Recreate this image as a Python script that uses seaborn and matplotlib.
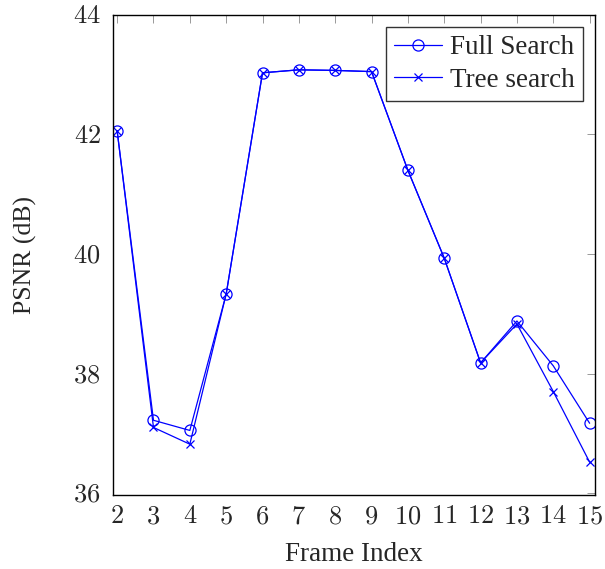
import matplotlib
matplotlib.use("Agg")
import matplotlib.pyplot as plt
import seaborn as sns
import pandas as pd
from matplotlib.ticker import FuncFormatter

frames = [2, 3, 4, 5, 6, 7, 8, 9, 10, 11, 12, 13, 14, 15]
full_search = [42.06, 37.22, 37.05, 39.33, 43.03, 43.08, 43.07, 43.05, 41.40, 39.93, 38.18, 38.88, 38.13, 37.17]
tree_search = [42.06, 37.10, 36.82, 39.33, 43.03, 43.08, 43.07, 43.05, 41.40, 39.93, 38.18, 38.83, 37.70, 36.52]
x_ticks = list(range(2, 16))
y_ticks = [36, 38, 40, 42, 44]

sns.set_theme(style="white")
plt.rcParams['font.family'] = ['Liberation Serif', 'DejaVu Serif']
plt.rcParams['mathtext.fontset'] = 'cm'

df = pd.DataFrame({"frame": frames, "full": full_search, "tree": tree_search})

fig = plt.figure(figsize=(6.05, 5.69), dpi=100)
ax = fig.add_axes([0.187, 0.130, 0.796, 0.844])

sns.lineplot(data=df, x="frame", y="full", ax=ax, color=(0, 0, 1), lw=0.9,
             marker="o", markersize=8, markerfacecolor="none", markeredgecolor=(0, 0, 1),
             markeredgewidth=0.9, label="Full Search")
sns.lineplot(data=df, x="frame", y="tree", ax=ax, color=(0, 0, 1), lw=0.9,
             marker="x", markersize=6, markeredgecolor=(0, 0, 1),
             markeredgewidth=0.9, label="Tree search")

ax.set_xlim(1.89, 15.14)
ax.set_ylim(35.97, 44.0)
ax.set_xticks(x_ticks)
ax.set_yticks(y_ticks)
fmt = FuncFormatter(lambda v, p: r"$%d$" % round(v))
ax.xaxis.set_major_formatter(fmt)
ax.yaxis.set_major_formatter(fmt)
ax.tick_params(direction="in", top=True, right=True, length=6, width=0.7,
               color="#999999", labelsize=19)
ax.tick_params(axis="x", pad=8)
ax.tick_params(axis="y", pad=9)
for s in ax.spines.values():
    s.set_color("black")
    s.set_linewidth(1.0)
ax.set_xlabel("Frame Index", fontsize=19.5, labelpad=10)
ax.set_ylabel("PSNR (dB)", fontsize=18.5, labelpad=26)

leg = ax.legend(loc="upper right", fontsize=19.5, frameon=True, fancybox=False,
                edgecolor="black", borderpad=0.3, handlelength=1.75,
                labelspacing=0.28, borderaxespad=0.45, handletextpad=0.3)
leg.get_frame().set_linewidth(1.0)

fig.savefig("out.png", dpi=100)
